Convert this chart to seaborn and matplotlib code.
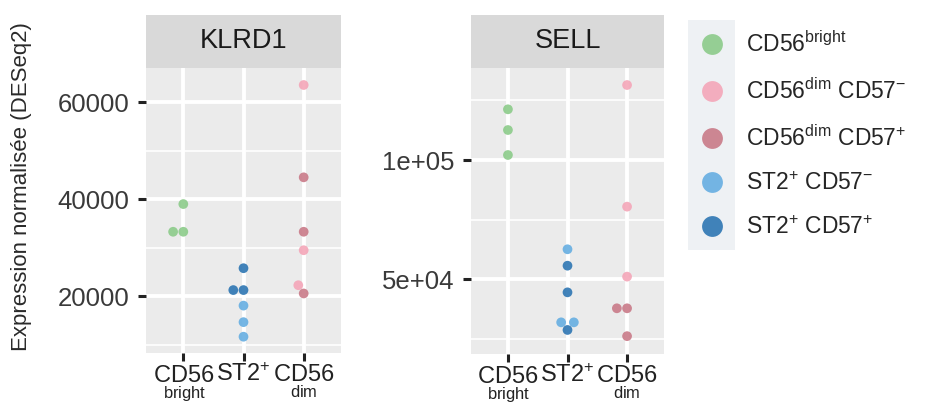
import numpy as np
import pandas as pd
import matplotlib
matplotlib.use("Agg")
import matplotlib.pyplot as plt
from matplotlib.lines import Line2D
from matplotlib.patches import Rectangle
from matplotlib.ticker import FixedLocator, MultipleLocator
import seaborn as sns

# ---- data -------------------------------------------------------------
genes = ["KLRD1", "SELL"]
groups = ["CD56bright", "ST2+", "CD56dim"]
populations = ["CD56bright", "CD56dim CD57-", "CD56dim CD57+",
               "ST2+ CD57-", "ST2+ CD57+"]
population_group = ["CD56bright", "CD56dim", "CD56dim", "ST2+", "ST2+"]

klrd1_cd56bright = [39000, 33300, 33300]
klrd1_cd56dim_cd57neg = [63500, 29500, 22300]
klrd1_cd56dim_cd57pos = [44500, 33300, 20600]
klrd1_st2_cd57neg = [18100, 14700, 11700]
klrd1_st2_cd57pos = [25800, 21300, 21300]

sell_cd56bright = [121300, 112600, 102100]
sell_cd56dim_cd57neg = [131500, 80400, 51000]
sell_cd56dim_cd57pos = [37700, 37700, 26000]
sell_st2_cd57neg = [62500, 31800, 31800]
sell_st2_cd57pos = [55600, 44400, 28600]

klrd1_ticks = [20000, 40000, 60000]
klrd1_ticklabels = ["20000", "40000", "60000"]
sell_ticks = [50000, 100000]
sell_ticklabels = ["5e+04", "1e+05"]

# group labels: main text with a small qualifier set underneath
x_tick_labels = [r"$\underset{\mathrm{bright}}{\mathrm{CD56}}$",
                 r"$\mathrm{ST2}^{+}$",
                 r"$\underset{\mathrm{dim}}{\mathrm{CD56}}$"]

legend_labels = [r"CD56$^{\mathrm{bright}}$",
                 r"CD56$^{\mathrm{dim}}$ CD57$^{-}$",
                 r"CD56$^{\mathrm{dim}}$ CD57$^{+}$",
                 r"ST2$^{+}$ CD57$^{-}$",
                 r"ST2$^{+}$ CD57$^{+}$"]

palette = {"CD56bright": "#8CCB8A",
           "CD56dim CD57-": "#F4A6B8",
           "CD56dim CD57+": "#C97A88",
           "ST2+ CD57-": "#66AEE2",
           "ST2+ CD57+": "#2D76B3"}

values = {
    "KLRD1": [klrd1_cd56bright, klrd1_cd56dim_cd57neg, klrd1_cd56dim_cd57pos,
              klrd1_st2_cd57neg, klrd1_st2_cd57pos],
    "SELL": [sell_cd56bright, sell_cd56dim_cd57neg, sell_cd56dim_cd57pos,
             sell_st2_cd57neg, sell_st2_cd57pos],
}

rows = []
for gene in genes:
    for pop, grp, vals in zip(populations, population_group, values[gene]):
        for v in vals:
            rows.append({"gene": gene, "group": grp, "population": pop, "value": v})
df = pd.DataFrame(rows)

# ---- style ------------------------------------------------------------
sns.set_theme(style="white")
plt.rcParams["font.family"] = ["Liberation Sans", "DejaVu Sans"]
plt.rcParams["mathtext.fontset"] = "custom"
plt.rcParams["mathtext.rm"] = "Liberation Sans"
plt.rcParams["mathtext.it"] = "Liberation Sans:italic"
plt.rcParams["mathtext.bf"] = "Liberation Sans:bold"

W, H = 935, 403
fig = plt.figure(figsize=(W / 100, H / 100), dpi=100)


def fbox(left, top, right, bottom):
    return [left / W, 1 - bottom / H, (right - left) / W, (bottom - top) / H]


panels = {
    "KLRD1": dict(box=(146, 68, 341, 353), ylim=(8350, 67000),
                  ticks=klrd1_ticks, labels=klrd1_ticklabels, minor=10000),
    "SELL": dict(box=(471, 68, 664, 354), ylim=(18500, 138650),
                 ticks=sell_ticks, labels=sell_ticklabels, minor=25000),
}

tick_color = "#3A3A3A"
for gene in genes:
    p = panels[gene]
    l, t, r, b = p["box"]
    ax = fig.add_axes(fbox(l, t, r, b))
    ax.set_facecolor("#EBEBEB")
    sub = df[df["gene"] == gene]
    sns.swarmplot(data=sub, x="group", y="value", hue="population",
                  order=groups, hue_order=populations, palette=palette,
                  size=7.0, alpha=0.9, linewidth=0, legend=False, ax=ax)
    ax.set_xlim(-0.62, 2.62)
    ax.set_ylim(*p["ylim"])
    ax.yaxis.set_major_locator(FixedLocator(p["ticks"]))
    ax.set_yticklabels(p["labels"])
    ax.yaxis.set_minor_locator(MultipleLocator(p["minor"]))
    ax.set_xticks(range(len(groups)))
    ax.grid(True, which="major", color="white", linewidth=2.8)
    ax.grid(True, which="minor", axis="y", color="white", linewidth=1.2)
    ax.set_axisbelow(True)
    for s in ax.spines.values():
        s.set_visible(False)
    ax.tick_params(axis="both", which="major", length=6, width=2.2,
                   color="#222222", labelcolor=tick_color, labelsize=18.5, pad=6,
                   bottom=True, left=True)
    ax.tick_params(axis="x", labelsize=17, labelcolor="#222222", pad=14.5)
    ax.tick_params(axis="y", which="minor", length=0)
    ax.set_xlabel("")
    ax.set_ylabel("")
    # share one baseline so the qualifiers hang below "CD56"
    ax.set_xticklabels(x_tick_labels, va="baseline")

    # facet strip
    sax = fig.add_axes(fbox(l, 15, r, 68))
    sax.set_facecolor("#D9D9D9")
    sax.set_xticks([])
    sax.set_yticks([])
    for s in sax.spines.values():
        s.set_visible(False)
    sax.text(0.5, 0.5, gene, ha="center", va="center", fontsize=19.5,
             color="#1A1A1A", transform=sax.transAxes)

fig.text(22 / W, 1 - 187 / H, "Expression normalisée (DESeq2)", rotation=90,
         ha="center", va="center", fontsize=16, color="#2A2A2A")

# legend
fig.add_artist(Rectangle((688 / W, 1 - 250 / H), 47 / W, 230 / H,
                         transform=fig.transFigure, facecolor="#EEF1F4",
                         edgecolor="none", zorder=0))
handles = [Line2D([], [], marker="o", linestyle="", markersize=15,
                  markerfacecolor=palette[p], markeredgewidth=0, alpha=0.9)
           for p in populations]
fig.legend(handles, legend_labels, loc="upper left",
           bbox_to_anchor=(701 / W, 1 - 31 / H), frameon=False, fontsize=16.5,
           labelspacing=0.93, handlelength=1.0, handletextpad=0.95,
           borderpad=0, borderaxespad=0)

fig.savefig("out.png", dpi=100)
